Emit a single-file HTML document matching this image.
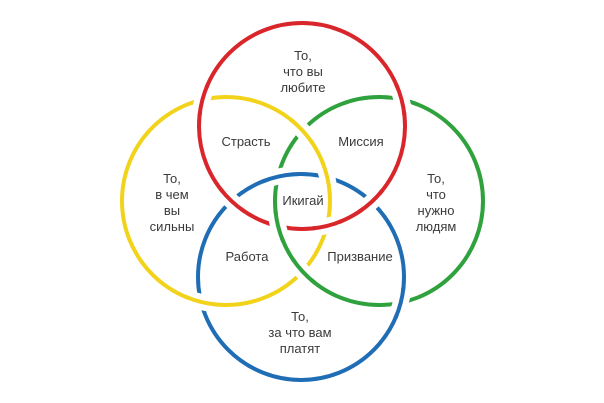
<!DOCTYPE html>
<html><head><meta charset="utf-8"><style>
html,body{margin:0;padding:0;background:#fff;width:604px;height:403px;overflow:hidden}
svg text{font-family:"Liberation Sans","DejaVu Sans",sans-serif;font-size:13px;fill:#3a3a3a;text-anchor:middle}
</style></head><body>
<svg id="s" width="604" height="403" viewBox="0 0 604 403" xmlns="http://www.w3.org/2000/svg">
<g id="rings"></g>
<g>
<text x="303" y="60">То,</text><text x="303" y="76">что вы</text><text x="303" y="92">любите</text>
<text x="246" y="146">Страсть</text>
<text x="361" y="146">Миссия</text>
<text x="172" y="183">То,</text><text x="172" y="199">в чем</text><text x="172" y="215">вы</text><text x="172" y="231">сильны</text>
<text x="303" y="205">Икигай</text>
<text x="436" y="183">То,</text><text x="436" y="199">что</text><text x="436" y="215">нужно</text><text x="436" y="231">людям</text>
<text x="247" y="261">Работа</text>
<text x="360" y="261">Призвание</text>
<text x="300" y="321">То,</text><text x="300" y="337">за что вам</text><text x="300" y="353">платят</text>
</g>
</svg>
<script>
var C={r:[302,126,103,'#d9262b'],y:[226,201,104,'#f2d31b'],g:[379,201,104,'#2fa23e'],b:[301,277,103,'#1f6db5']};
var g=document.getElementById('rings'),NS='http://www.w3.org/2000/svg';
function el(t,a){var e=document.createElementNS(NS,t);for(var k in a)e.setAttribute(k,a[k]);g.appendChild(e);return e;}
for(var k in C){var c=C[k];el('circle',{cx:c[0],cy:c[1],r:c[2],fill:'none',stroke:c[3],'stroke-width':4});}
function inter(a,b){var x0=a[0],y0=a[1],r0=a[2],x1=b[0],y1=b[1],r1=b[2];var dx=x1-x0,dy=y1-y0,d=Math.hypot(dx,dy);
var aa=(r0*r0-r1*r1+d*d)/(2*d),h=Math.sqrt(r0*r0-aa*aa);var xm=x0+aa*dx/d,ym=y0+aa*dy/d;
return [[xm+h*dy/d,ym-h*dx/d],[xm-h*dy/d,ym+h*dx/d]];}
// [over, under, approx x, approx y]
var X=[['g','r',400,100],['r','y',198,108],['r','g',310,120],['y','g',280,170],['y','b',327,176],['r','b',368,200],['r','b',233,200],['y','b',202,300],['g','r',277,224],['b','g',278,178],['b','g',395,300],['r','y',329,225],['g','y',300,272]];
X.forEach(function(x){var o=C[x[0]],u=C[x[1]];var ps=inter(o,u);var p=ps[0];
if(Math.hypot(ps[1][0]-x[2],ps[1][1]-x[3])<Math.hypot(p[0]-x[2],p[1]-x[3]))p=ps[1];
var t=Math.atan2(p[1]-o[1],p[0]-o[0]),s=0.12;
var a1=[o[0]+o[2]*Math.cos(t-s),o[1]+o[2]*Math.sin(t-s)],a2=[o[0]+o[2]*Math.cos(t+s),o[1]+o[2]*Math.sin(t+s)];
var d='M'+a1[0]+' '+a1[1]+' A'+o[2]+' '+o[2]+' 0 0 1 '+a2[0]+' '+a2[1];
el('path',{d:d,fill:'none',stroke:'#fff','stroke-width':16});
var ta=t-0.16,tb=t+0.16;
var b1=[o[0]+o[2]*Math.cos(ta),o[1]+o[2]*Math.sin(ta)],b2=[o[0]+o[2]*Math.cos(tb),o[1]+o[2]*Math.sin(tb)];
el('path',{d:'M'+b1[0]+' '+b1[1]+' A'+o[2]+' '+o[2]+' 0 0 1 '+b2[0]+' '+b2[1],fill:'none',stroke:o[3],'stroke-width':4});
});
</script>
</body></html>
